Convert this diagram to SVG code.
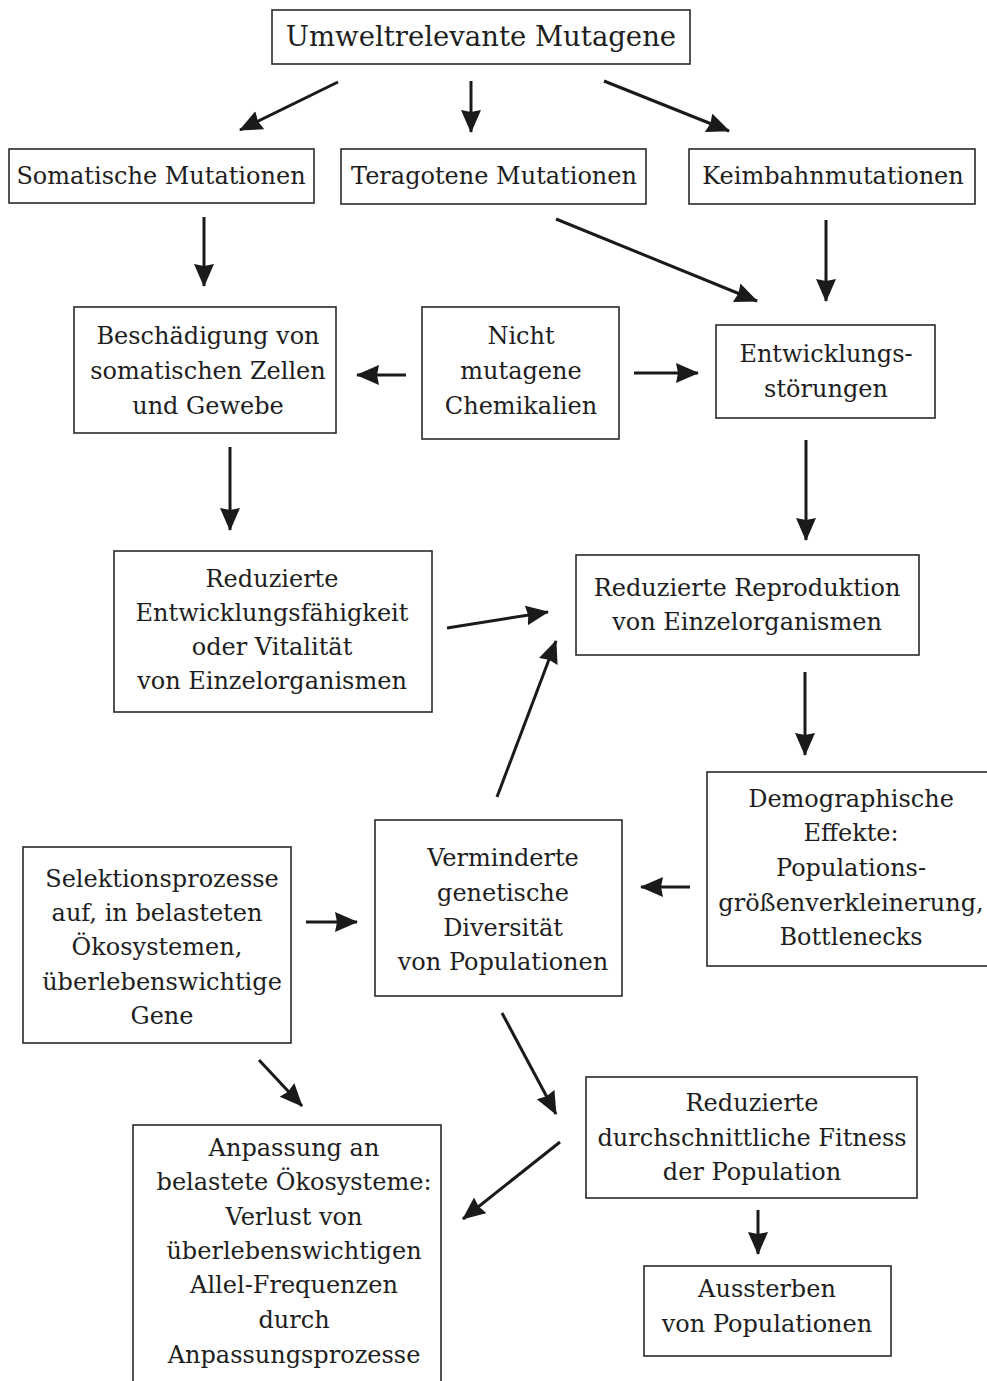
<svg xmlns="http://www.w3.org/2000/svg" width="987" height="1381" viewBox="0 0 987 1381">
<style>
.box{fill:#fff;stroke:#2a2a2a;stroke-width:1.6}
text{font-family:"DejaVu Serif","Liberation Serif",serif;font-size:24px;fill:#1e1e1e;text-anchor:middle}
.title{font-size:27.5px}
.c line{stroke:#1a1a1a;stroke-width:3;fill:none;marker-end:url(#ah)}
</style>
<defs>
<marker id="ah" markerUnits="userSpaceOnUse" markerWidth="24" markerHeight="22" refX="22" refY="10" orient="auto">
<path d="M0,0 L23,10 L0,20 L2,10 Z" fill="#1a1a1a"/>
</marker>
</defs>
<rect width="987" height="1381" fill="#fff"/>

<g id="n1"><rect class="box" x="272" y="10" width="418" height="54"/><text class="title" x="481" y="46">Umweltrelevante Mutagene</text></g>
<g id="n2"><rect class="box" x="9" y="149" width="305" height="54"/><text x="161" y="184">Somatische Mutationen</text></g>
<g id="n3"><rect class="box" x="341" y="149" width="305" height="55"/><text x="494" y="184">Teragotene Mutationen</text></g>
<g id="n4"><rect class="box" x="689" y="149" width="286" height="55"/><text x="833" y="184">Keimbahnmutationen</text></g>
<g id="n5"><rect class="box" x="74" y="307" width="262" height="126"/><text x="208" y="344">Beschädigung von</text><text x="208" y="379">somatischen Zellen</text><text x="208" y="414">und Gewebe</text></g>
<g id="n6"><rect class="box" x="422" y="307" width="197" height="132"/><text x="521" y="344">Nicht</text><text x="521" y="379">mutagene</text><text x="521" y="414">Chemikalien</text></g>
<g id="n7"><rect class="box" x="716" y="325" width="219" height="93"/><text x="826" y="362">Entwicklungs-</text><text x="826" y="397">störungen</text></g>
<g id="n8"><rect class="box" x="114" y="551" width="318" height="161"/><text x="272" y="587">Reduzierte</text><text x="272" y="621">Entwicklungsfähigkeit</text><text x="272" y="655">oder Vitalität</text><text x="272" y="689">von Einzelorganismen</text></g>
<g id="n9"><rect class="box" x="576" y="555" width="343" height="100"/><text x="747" y="596">Reduzierte Reproduktion</text><text x="747" y="630">von Einzelorganismen</text></g>
<g id="n10"><rect class="box" x="707" y="772" width="290" height="194"/><text x="851" y="807">Demographische</text><text x="851" y="841">Effekte:</text><text x="851" y="876">Populations-</text><text x="851" y="911">größenverkleinerung,</text><text x="851" y="945">Bottlenecks</text></g>
<g id="n11"><rect class="box" x="23" y="847" width="268" height="196"/><text x="162" y="887">Selektionsprozesse</text><text x="157" y="921">auf, in belasteten</text><text x="157" y="955">Ökosystemen,</text><text x="162" y="990">überlebenswichtige</text><text x="162" y="1024">Gene</text></g>
<g id="n12"><rect class="box" x="375" y="820" width="247" height="176"/><text x="503" y="866">Verminderte</text><text x="503" y="901">genetische</text><text x="503" y="936">Diversität</text><text x="503" y="970">von Populationen</text></g>
<g id="n13"><rect class="box" x="586" y="1077" width="331" height="121"/><text x="752" y="1111">Reduzierte</text><text x="752" y="1146">durchschnittliche Fitness</text><text x="752" y="1180">der Population</text></g>
<g id="n14"><rect class="box" x="644" y="1266" width="247" height="90"/><text x="767" y="1297">Aussterben</text><text x="767" y="1332">von Populationen</text></g>
<g id="n15"><rect class="box" x="133" y="1125" width="308" height="270"/><text x="294" y="1156">Anpassung an</text><text x="294" y="1190">belastete Ökosysteme:</text><text x="294" y="1225">Verlust von</text><text x="294" y="1259">überlebenswichtigen</text><text x="294" y="1293">Allel-Frequenzen</text><text x="294" y="1328">durch</text><text x="294" y="1363">Anpassungsprozesse</text></g>

<g id="connectors" class="c">
<line x1="338" y1="82" x2="240" y2="130"/>
<line x1="471" y1="81" x2="471" y2="132"/>
<line x1="604" y1="81" x2="729" y2="131"/>
<line x1="204" y1="217" x2="204" y2="286"/>
<line x1="556" y1="219" x2="757" y2="301"/>
<line x1="826" y1="220" x2="826" y2="301"/>
<line x1="406" y1="375" x2="357" y2="375"/>
<line x1="634" y1="373" x2="698" y2="373"/>
<line x1="230" y1="447" x2="230" y2="530"/>
<line x1="806" y1="440" x2="806" y2="540"/>
<line x1="447" y1="628" x2="548" y2="612"/>
<line x1="805" y1="672" x2="805" y2="755"/>
<line x1="690" y1="887" x2="641" y2="887"/>
<line x1="497" y1="797" x2="556" y2="641"/>
<line x1="306" y1="922" x2="357" y2="922"/>
<line x1="259" y1="1060" x2="302" y2="1106"/>
<line x1="502" y1="1013" x2="556" y2="1114"/>
<line x1="560" y1="1142" x2="463" y2="1219"/>
<line x1="758" y1="1210" x2="758" y2="1254"/>
</g>
</svg>
